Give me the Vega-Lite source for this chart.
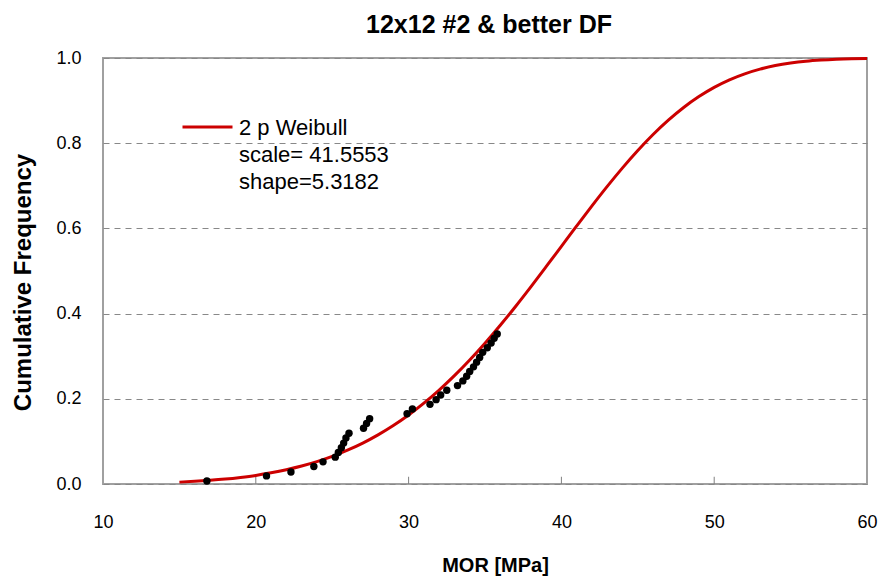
{
  "$schema": "https://vega.github.io/schema/vega-lite/v6.json",
  "width": 764,
  "height": 426,
  "autosize": {"type": "none"},
  "padding": {"left": 103, "top": 58, "right": 13, "bottom": 93},
  "background": "white",
  "title": {"text": "12x12 #2 & better DF", "font": "Liberation Sans", "fontSize": 25, "fontWeight": "bold", "color": "#000000", "offset": 11, "anchor": "middle", "dx": 4},
  "config": {
    "view": {"stroke": "#a0a0a0", "strokeWidth": 2},
    "style": {"guide-label": {"lineHeight": 27}},
    "axis": {"labelFont": "Liberation Sans", "titleFont": "Liberation Sans", "labelColor": "#000000", "titleColor": "#000000", "labelFontSize": 18, "titleFontWeight": "bold"}
  },
  "datasets": {
    "curve": [
      {"mor": 15, "f": 0.0044, "series": "2 p Weibull"},
      {"mor": 16, "f": 0.0062, "series": "2 p Weibull"},
      {"mor": 17, "f": 0.0086, "series": "2 p Weibull"},
      {"mor": 18, "f": 0.0116, "series": "2 p Weibull"},
      {"mor": 19, "f": 0.0155, "series": "2 p Weibull"},
      {"mor": 20, "f": 0.0202, "series": "2 p Weibull"},
      {"mor": 21, "f": 0.0262, "series": "2 p Weibull"},
      {"mor": 22, "f": 0.0334, "series": "2 p Weibull"},
      {"mor": 23, "f": 0.0421, "series": "2 p Weibull"},
      {"mor": 24, "f": 0.0525, "series": "2 p Weibull"},
      {"mor": 25, "f": 0.0648, "series": "2 p Weibull"},
      {"mor": 26, "f": 0.0793, "series": "2 p Weibull"},
      {"mor": 27, "f": 0.0960, "series": "2 p Weibull"},
      {"mor": 28, "f": 0.1153, "series": "2 p Weibull"},
      {"mor": 29, "f": 0.1372, "series": "2 p Weibull"},
      {"mor": 30, "f": 0.1620, "series": "2 p Weibull"},
      {"mor": 31, "f": 0.1898, "series": "2 p Weibull"},
      {"mor": 32, "f": 0.2206, "series": "2 p Weibull"},
      {"mor": 33, "f": 0.2543, "series": "2 p Weibull"},
      {"mor": 34, "f": 0.2911, "series": "2 p Weibull"},
      {"mor": 35, "f": 0.3305, "series": "2 p Weibull"},
      {"mor": 36, "f": 0.3726, "series": "2 p Weibull"},
      {"mor": 37, "f": 0.4168, "series": "2 p Weibull"},
      {"mor": 38, "f": 0.4628, "series": "2 p Weibull"},
      {"mor": 39, "f": 0.5101, "series": "2 p Weibull"},
      {"mor": 40, "f": 0.5580, "series": "2 p Weibull"},
      {"mor": 41, "f": 0.6058, "series": "2 p Weibull"},
      {"mor": 42, "f": 0.6529, "series": "2 p Weibull"},
      {"mor": 43, "f": 0.6986, "series": "2 p Weibull"},
      {"mor": 44, "f": 0.7421, "series": "2 p Weibull"},
      {"mor": 45, "f": 0.7829, "series": "2 p Weibull"},
      {"mor": 46, "f": 0.8204, "series": "2 p Weibull"},
      {"mor": 47, "f": 0.8541, "series": "2 p Weibull"},
      {"mor": 48, "f": 0.8839, "series": "2 p Weibull"},
      {"mor": 49, "f": 0.9095, "series": "2 p Weibull"},
      {"mor": 50, "f": 0.9311, "series": "2 p Weibull"},
      {"mor": 51, "f": 0.9488, "series": "2 p Weibull"},
      {"mor": 52, "f": 0.9629, "series": "2 p Weibull"},
      {"mor": 53, "f": 0.9739, "series": "2 p Weibull"},
      {"mor": 54, "f": 0.9822, "series": "2 p Weibull"},
      {"mor": 55, "f": 0.9882, "series": "2 p Weibull"},
      {"mor": 56, "f": 0.9925, "series": "2 p Weibull"},
      {"mor": 57, "f": 0.9953, "series": "2 p Weibull"},
      {"mor": 58, "f": 0.9972, "series": "2 p Weibull"},
      {"mor": 59, "f": 0.9984, "series": "2 p Weibull"},
      {"mor": 60, "f": 0.9991, "series": "2 p Weibull"}
    ],
    "pts": [
      {"mor": 16.8, "f": 0.007},
      {"mor": 20.7, "f": 0.019},
      {"mor": 22.3, "f": 0.028},
      {"mor": 23.8, "f": 0.041},
      {"mor": 24.4, "f": 0.052},
      {"mor": 25.2, "f": 0.063},
      {"mor": 25.4, "f": 0.074},
      {"mor": 25.6, "f": 0.085},
      {"mor": 25.75, "f": 0.096},
      {"mor": 25.9, "f": 0.108},
      {"mor": 26.1, "f": 0.119},
      {"mor": 27.05, "f": 0.131},
      {"mor": 27.25, "f": 0.142},
      {"mor": 27.45, "f": 0.153},
      {"mor": 29.9, "f": 0.165},
      {"mor": 30.25, "f": 0.176},
      {"mor": 31.4, "f": 0.187},
      {"mor": 31.8, "f": 0.198},
      {"mor": 32.1, "f": 0.209},
      {"mor": 32.5, "f": 0.22},
      {"mor": 33.2, "f": 0.231},
      {"mor": 33.55, "f": 0.242},
      {"mor": 33.8, "f": 0.253},
      {"mor": 34.0, "f": 0.264},
      {"mor": 34.25, "f": 0.275},
      {"mor": 34.45, "f": 0.286},
      {"mor": 34.65, "f": 0.297},
      {"mor": 34.85, "f": 0.309},
      {"mor": 35.15, "f": 0.32},
      {"mor": 35.4, "f": 0.331},
      {"mor": 35.6, "f": 0.342},
      {"mor": 35.8, "f": 0.352}
    ],
    "xticks": [
      {"mor": 20},
      {"mor": 30},
      {"mor": 40},
      {"mor": 50}
    ]
  },
  "layer": [
    {
      "data": {"name": "xticks"},
      "mark": {"type": "rule", "color": "#808080", "strokeWidth": 1},
      "encoding": {
        "x": {"field": "mor", "type": "quantitative"},
        "y": {"datum": 0},
        "y2": {"datum": 0.017}
      }
    },
    {
      "data": {"name": "curve"},
      "mark": {"type": "line", "strokeWidth": 3, "interpolate": "monotone"},
      "encoding": {
        "x": {"field": "mor", "type": "quantitative", "scale": {"domain": [10, 60], "nice": false, "zero": false},
          "axis": {"title": "MOR [MPa]", "titleFontSize": 20, "titleX": 392, "values": [10, 20, 30, 40, 50, 60], "grid": false, "domain": false, "ticks": false, "labelPadding": 29, "titlePadding": 24, "labelFlush": false}},
        "y": {"field": "f", "type": "quantitative", "scale": {"domain": [0, 1], "nice": false},
          "axis": {"title": "Cumulative Frequency", "titleFontSize": 24, "titleY": 224, "values": [0, 0.2, 0.4, 0.6, 0.8, 1.0], "format": ".1f", "grid": true, "gridDash": [6, 5], "gridColor": "#888888", "gridWidth": 1, "domain": false, "ticks": false, "labelPadding": 22, "titlePadding": 20}},
        "color": {"field": "series", "type": "nominal", "scale": {"range": ["#cc0000"]},
          "legend": {"orient": "none", "legendX": 78, "legendY": 33, "title": null, "symbolType": "M-1,0.38H1", "symbolSize": 2500, "symbolStrokeWidth": 3, "labelFont": "Liberation Sans", "labelFontSize": 22, "labelColor": "#000000", "labelLimit": 400, "labelExpr": "['2 p Weibull', 'scale= 41.5553', 'shape=5.3182']", "labelBaseline": "top", "labelOffset": 5}}
      }
    },
    {
      "data": {"name": "pts"},
      "mark": {"type": "point", "filled": true, "color": "#000000", "size": 55, "opacity": 1},
      "encoding": {
        "x": {"field": "mor", "type": "quantitative"},
        "y": {"field": "f", "type": "quantitative"}
      }
    }
  ]
}
